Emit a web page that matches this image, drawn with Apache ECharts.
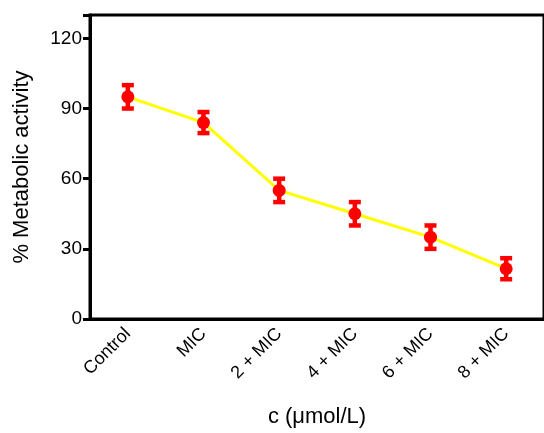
<!DOCTYPE html>
<html>
<head>
<meta charset="utf-8">
<script src="https://cdn.jsdelivr.net/npm/echarts@6/dist/echarts.min.js"></script>
<style>
  html, body { margin: 0; padding: 0; background: #fff; }
  #main { width: 544px; height: 433px; }
</style>
</head>
<body>
<div id="main"></div>
<script>
// data
var categories = ['Control', 'MIC', '2 + MIC', '4 + MIC', '6 + MIC', '8 + MIC'];
var activity = [95, 84, 55, 45, 35, 21.5];
var errors = [5, 4.5, 5, 5, 5, 4.5];
var yTicks = [0, 30, 60, 90, 120];

var chart = echarts.init(document.getElementById('main'));

var errData = activity.map(function (v, i) {
  return [i, v - errors[i], v + errors[i]];
});

var option = {
  animation: false,
  grid: {
    left: 90, top: 15, width: 458, height: 306,
    show: true, borderColor: '#000', borderWidth: 3, backgroundColor: 'transparent'
  },
  xAxis: {
    type: 'category',
    data: categories,
    boundaryGap: true,
    name: 'c (\u03bcmol/L)',
    nameLocation: 'middle',
    nameGap: 87,
    nameTextStyle: { fontFamily: 'Liberation Sans', fontSize: 22, color: '#000', verticalAlign: 'top' },
    axisLine: { lineStyle: { color: '#000', width: 3 } },
    axisTick: { alignWithLabel: true, length: 6, lineStyle: { color: '#000', width: 3 } },
    axisLabel: { rotate: 45, margin: 12, fontFamily: 'Liberation Sans', fontSize: 18, color: '#000' },
    splitLine: { show: false }
  },
  yAxis: {
    type: 'value',
    min: 0, max: 130, interval: 30,
    name: '% Metabolic activity',
    nameLocation: 'middle',
    nameGap: 57,
    nameTextStyle: { fontFamily: 'Liberation Sans', fontSize: 22, color: '#000' },
    axisLine: { show: true, lineStyle: { color: '#000', width: 3 } },
    axisTick: { show: true, length: 7, lineStyle: { color: '#000', width: 3 } },
    axisLabel: {
      margin: 8, fontFamily: 'Liberation Sans', fontSize: 19, color: '#000',
      formatter: function (v) { return yTicks.indexOf(v) >= 0 ? v : ''; }
    },
    splitLine: { show: false }
  },
  series: [
    {
      type: 'line',
      data: activity,
      symbol: 'circle',
      symbolSize: 13,
      itemStyle: { color: '#ff0000' },
      lineStyle: { color: '#ffff00', width: 3 },
      z: 3
    },
    {
      type: 'custom',
      data: errData,
      z: 4,
      renderItem: function (params, api) {
        var x = api.value(0);
        var lo = api.coord([x, api.value(1)]);
        var hi = api.coord([x, api.value(2)]);
        var hw = 6;
        var st = { stroke: '#ff0000', lineWidth: 4.5 };
        return {
          type: 'group',
          children: [
            { type: 'line', shape: { x1: lo[0], y1: lo[1], x2: hi[0], y2: hi[1] }, style: st },
            { type: 'line', shape: { x1: lo[0] - hw, y1: lo[1], x2: lo[0] + hw, y2: lo[1] }, style: st },
            { type: 'line', shape: { x1: hi[0] - hw, y1: hi[1], x2: hi[0] + hw, y2: hi[1] }, style: st }
          ]
        };
      }
    }
  ]
};

chart.setOption(option);
</script>
</body>
</html>
